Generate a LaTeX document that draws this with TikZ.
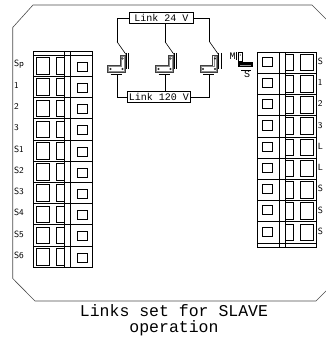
\documentclass[tikz,border=0pt]{standalone}
\usepackage{fontspec}
\setmonofont{Liberation Mono}
\usetikzlibrary{positioning}
\tikzset{
  linkbox/.style={draw, font=\ttfamily\fontsize{10}{10}\selectfont, inner sep=1pt, minimum height=11pt},
  termlbl/.style={font=\sffamily\fontsize{9}{9}\selectfont, anchor=west, inner sep=0pt},
  bigtxt/.style={font=\ttfamily\fontsize{16.5}{16.5}\selectfont, align=center, inner sep=0pt}
}
\begin{document}
\begin{tikzpicture}[x=1pt,y=-1pt,line width=0.6pt]
    \useasboundingbox (0,0) rectangle (325,339);
    \draw[black!70] (33,5) -- (312,5) -- (337,30) -- (337,280) -- (316,301) -- (35,301) -- (12.7,278.5) -- (12.7,27.5) -- cycle;
    % terminal blocks, the right one is the left one turned round
    \foreach \sx/\sy/\rot/\n in {33.5/51/0/9, 316/246.8/180/8}{
        \begin{scope}[shift={(\sx,\sy)}, rotate=\rot]
            \draw (0,0) rectangle (59,{4+21.2*(\n+1)});
            \draw (0,4) -- (59,4);
            \draw (30.5,0) -- (30.5,{4+21.2*(\n+1)}) (37.2,0) -- (37.2,{4+21.2*(\n+1)});
            \foreach \i in {0,...,\n}{
                \draw (0,{4+21.2*(\i+1)}) -- (59,{4+21.2*(\i+1)});
                \draw (2.5,{6.5+21.2*\i}) rectangle ++(13,16.5);
                \draw (30.5,{6.5+21.2*\i}) -- (22.5,{6.5+21.2*\i}) -- (22.5,{23+21.2*\i}) -- (30.5,{23+21.2*\i});
                \draw (43.5,{11+21.2*\i}) rectangle ++(10,9);
            }
        \end{scope}
    }
    \foreach \t [count=\i from 0] in {Sp,1,2,3,S1,S2,S3,S4,S5,S6}
        \node[termlbl] (ll\i) at (13.8,{64.3+21.2*\i}) {\t};
    \foreach \t [count=\i from 0] in {S,1,2,3,L,L,S,S,S}
        \node[termlbl] (rl\i) at (317.5,{61.5+21.2*\i}) {\t};
    % links
    \node[linkbox, minimum width=64.5pt] (l24) at (161.3,18.3) {Link 24 V};
    \node[linkbox, minimum width=63pt] (l120) at (159,97) {Link 120 V};
    \foreach \w [count=\k] in {117,165,209.5}{
        \coordinate (sw\k) at (\w,41.7);
        \coordinate (pin\k) at (\w,74.5);
        \draw (sw\k) -- (\w+9,54.5);
        \draw[line width=0.5pt] (\w+9,53) -- (\w+9,69) (\w+11.3,53) -- (\w+11.3,69);
        \draw[black!75, line width=0.45pt] (\w+3,55) -- (\w+8,55) -- (\w+8,72.5) -- (\w-9.7,72.5) -- (\w-9.7,65) -- (\w+3,65) -- cycle;
        \draw[black!45, line width=0.35pt] (\w+4.2,56.2) -- (\w+6.8,56.2) -- (\w+6.8,71.3) -- (\w-8.5,71.3) -- (\w-8.5,66.2) -- (\w+4.2,66.2) -- cycle;
        \draw[line width=0.35pt] (\w+5.5,58.5) circle (0.8) (\w+5.5,69) circle (0.8) (\w-6.5,69) circle (0.8);
        \draw (\w-6.5,74.5) -- (\w+4.5,74.5);
    }
    \draw (l24.west) -| (sw1);
    \draw (l24.south -| sw2) -- (sw2);
    \draw (l24.east) -| (sw3);
    \draw (pin1) |- (l120.west);
    \draw (pin2) -- (l120.north -| pin2);
    \draw (pin3) |- (l120.east);
    % master / slave link
    \node[font=\ttfamily\fontsize{10}{10}\selectfont, inner sep=0pt] (mlbl) at (232.5,56.5) {M};
    \draw (236.5,52.5) -- (236.5,60.5);
    \draw (238.5,52.5) rectangle (242,61);
    \fill (240.2,55) circle (0.6);
    \fill (238,62.5) rectangle (253,67.5);
    \draw[black!40, line width=0.4pt] (240,65) -- (251,65);
    \draw (241,70) -- (251,70);
    \node[font=\ttfamily\fontsize{10}{10}\selectfont, inner sep=0pt] (slbl) at (247,74.5) {S};
    \node[bigtxt] (cap) at (174,320) {Links set for SLAVE\\operation};
\end{tikzpicture}
\end{document}
